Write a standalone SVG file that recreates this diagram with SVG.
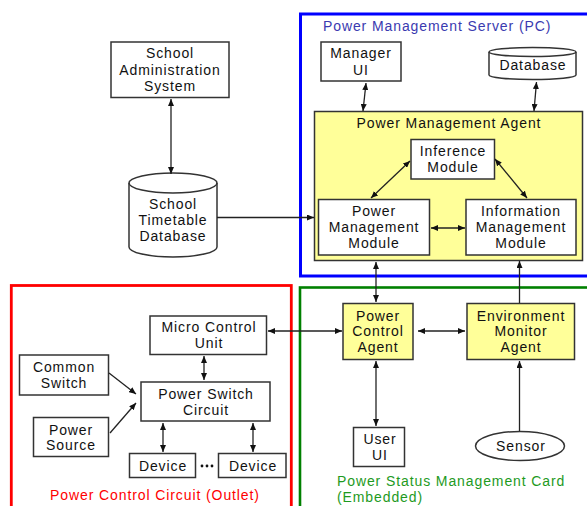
<svg xmlns="http://www.w3.org/2000/svg" width="587" height="506" viewBox="0 0 587 506">
<defs>
<marker id="ah" viewBox="0 0 7 6" refX="7" refY="3" markerWidth="7" markerHeight="6" markerUnits="userSpaceOnUse" orient="auto-start-reverse">
<path d="M0,0 L7,3 L0,6 z" fill="#111"/>
</marker>
<style>
text{font-family:"Liberation Sans",Arial,sans-serif;font-size:14px;letter-spacing:0.9px;fill:#111;text-anchor:middle}
.box{fill:#fff;stroke:#333;stroke-width:1.5}
.yel{fill:#ffff99;stroke:#333;stroke-width:1.5}
.c{fill:none;stroke:#222;stroke-width:1.3}
.b{marker-start:url(#ah);marker-end:url(#ah)}
.e{marker-end:url(#ah)}
.lbl{text-anchor:start}
</style>
</defs>
<rect width="587" height="506" fill="#fff"/>

<g id="frames">
<rect x="300.5" y="14" width="300" height="262" fill="none" stroke="#0000ff" stroke-width="3"/>
<rect x="300" y="287.5" width="300" height="230" fill="none" stroke="#008000" stroke-width="2.6"/>
<rect x="11.3" y="285.5" width="280" height="230" fill="none" stroke="#ff0000" stroke-width="2.8"/>
<text class="lbl" x="323" y="31" style="fill:#3a3ab0">Power Management Server (PC)</text>
<text class="lbl" x="337" y="486" style="fill:#1e9a1e">Power Status Management Card</text>
<text class="lbl" x="337" y="502" style="fill:#1e9a1e">(Embedded)</text>
<text x="155" y="500" style="fill:#ff0000">Power Control Circuit (Outlet)</text>
</g>

<g id="pma">
<rect class="yel" x="314.5" y="111.5" width="268" height="149"/>
<text x="449" y="128">Power Management Agent</text>
</g>

<g id="sas">
<rect class="box" x="111" y="42" width="118" height="55.5"/>
<text x="170" y="58">School</text>
<text x="170" y="75">Administration</text>
<text x="170" y="91">System</text>
</g>

<g id="std">
<path class="box" d="M129,183 A44,10 0 0 1 217,183 L217,247 A44,10 0 0 1 129,247 Z"/>
<path d="M129,183 A44,10 0 0 0 217,183" fill="none" stroke="#333" stroke-width="1.5"/>
<text x="173" y="209">School</text>
<text x="173" y="225">Timetable</text>
<text x="173" y="241">Database</text>
</g>

<g id="managerui">
<rect class="box" x="321" y="42" width="80" height="39"/>
<text x="361" y="58">Manager</text>
<text x="361" y="75">UI</text>
</g>

<g id="database">
<path class="box" d="M489,52 A43.5,4.5 0 0 1 576,52 L576,75 A43.5,4.5 0 0 1 489,75 Z"/>
<path d="M489,52 A43.5,4.5 0 0 0 576,52" fill="none" stroke="#333" stroke-width="1.5"/>
<text x="533" y="70">Database</text>
</g>

<g id="inference">
<rect class="box" x="411" y="139.5" width="83.5" height="39.5"/>
<text x="453" y="156">Inference</text>
<text x="453" y="172">Module</text>
</g>

<g id="pmm">
<rect class="box" x="318.5" y="199.5" width="111" height="55.5"/>
<text x="374" y="216">Power</text>
<text x="374" y="232">Management</text>
<text x="374" y="248">Module</text>
</g>

<g id="imm">
<rect class="box" x="466" y="199.5" width="110" height="55.5"/>
<text x="521" y="216">Information</text>
<text x="521" y="232">Management</text>
<text x="521" y="248">Module</text>
</g>

<g id="pca">
<rect class="yel" x="343" y="303.5" width="70" height="56"/>
<text x="378" y="321">Power</text>
<text x="378" y="336">Control</text>
<text x="378" y="352">Agent</text>
</g>

<g id="ema">
<rect class="yel" x="467" y="303.5" width="107.5" height="56"/>
<text x="521" y="321">Environment</text>
<text x="521" y="336">Monitor</text>
<text x="521" y="352">Agent</text>
</g>

<g id="userui">
<rect class="box" x="353.5" y="427.5" width="51" height="39"/>
<text x="380" y="444">User</text>
<text x="380" y="460">UI</text>
</g>

<g id="sensor">
<ellipse class="box" cx="520" cy="446" rx="44.5" ry="14.5"/>
<text x="521" y="451">Sensor</text>
</g>

<g id="mcu">
<rect class="box" x="150" y="316" width="116.5" height="38.5"/>
<text x="209" y="332">Micro Control</text>
<text x="209" y="348">Unit</text>
</g>

<g id="psc">
<rect class="box" x="141" y="382" width="129" height="39"/>
<text x="206" y="399">Power Switch</text>
<text x="206" y="415">Circuit</text>
</g>

<g id="commonswitch">
<rect class="box" x="19.5" y="355" width="89" height="40"/>
<text x="64" y="372">Common</text>
<text x="64" y="388">Switch</text>
</g>

<g id="powersource">
<rect class="box" x="33.5" y="417.5" width="75" height="39"/>
<text x="71" y="435">Power</text>
<text x="71" y="450">Source</text>
</g>

<g id="device1">
<rect class="box" x="129.5" y="453.5" width="66" height="24"/>
<text x="163" y="471">Device</text>
</g>

<g id="device2">
<rect class="box" x="218.5" y="453.5" width="67.5" height="24"/>
<text x="253" y="471">Device</text>
</g>

<g id="dots" fill="#111">
<circle cx="202" cy="466" r="1.4"/>
<circle cx="207" cy="466" r="1.4"/>
<circle cx="212" cy="466" r="1.4"/>
</g>

<g id="connectors">
<line class="c b" x1="171" y1="99" x2="171" y2="174"/>
<line class="c e" x1="217" y1="217.5" x2="314" y2="217.5"/>
<line class="c b" x1="366" y1="83" x2="363" y2="111"/>
<line class="c b" x1="536.5" y1="82" x2="534" y2="111"/>
<line class="c b" x1="371" y1="198" x2="410" y2="161"/>
<line class="c b" x1="495" y1="159" x2="527" y2="198"/>
<line class="c b" x1="431" y1="228" x2="465" y2="228"/>
<line class="c b" x1="376" y1="262" x2="376" y2="302"/>
<line class="c e" x1="519.5" y1="303" x2="519.5" y2="261"/>
<line class="c b" x1="268" y1="331" x2="342" y2="331"/>
<line class="c b" x1="418" y1="331" x2="465" y2="331"/>
<line class="c b" x1="376" y1="361" x2="376" y2="426"/>
<line class="c e" x1="519.5" y1="431" x2="519.5" y2="361"/>
<line class="c b" x1="204" y1="356" x2="204" y2="380"/>
<line class="c e" x1="109" y1="373" x2="136" y2="394"/>
<line class="c e" x1="110" y1="433" x2="136" y2="403"/>
<line class="c b" x1="163" y1="423" x2="163" y2="452"/>
<line class="c b" x1="253" y1="423" x2="253" y2="452"/>
</g>
</svg>
